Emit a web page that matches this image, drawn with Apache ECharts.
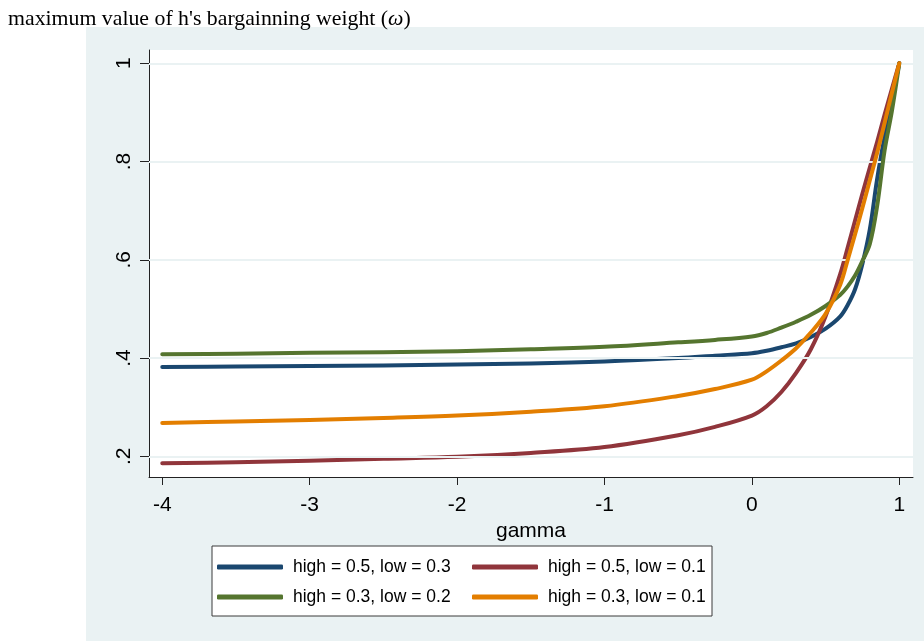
<!DOCTYPE html>
<html><head><meta charset="utf-8">
<script src="https://cdn.jsdelivr.net/npm/echarts@6/dist/echarts.min.js"></script>
<style>html,body{margin:0;padding:0;background:#fff}#c{width:924px;height:641px}</style>
</head><body><div id="c"></div>
<script>
// ---- data ----
const gamma = [-4,-3.5,-3,-2.5,-2,-1.5,-1,-0.5,-0.25,0,0.1,0.2,0.3,0.4,0.5,0.6,0.65,0.7,0.75,0.8,0.85,0.9,0.95,1];
const seriesNames = ['high = 0.5, low = 0.3','high = 0.5, low = 0.1','high = 0.3, low = 0.2','high = 0.3, low = 0.1'];
const h5l3 = [0.382,0.383,0.384,0.385,0.387,0.389,0.393,0.400,0.405,0.410,0.415,0.422,0.430,0.443,0.460,0.485,0.508,0.540,0.592,0.662,0.765,0.850,0.925,1.0];
const h5l1 = [0.186,0.188,0.191,0.195,0.199,0.207,0.219,0.243,0.260,0.283,0.302,0.331,0.370,0.418,0.485,0.572,0.625,0.680,0.735,0.788,0.840,0.895,0.948,1.0];
const h3l2 = [0.408,0.409,0.411,0.412,0.414,0.418,0.423,0.432,0.437,0.444,0.451,0.462,0.474,0.488,0.506,0.529,0.546,0.568,0.598,0.632,0.710,0.822,0.903,1.0];
const h3l1 = [0.268,0.271,0.274,0.278,0.283,0.291,0.302,0.323,0.337,0.356,0.373,0.395,0.420,0.452,0.490,0.550,0.600,0.652,0.706,0.762,0.818,0.878,0.940,1.0];
const xTicks = [-4,-3,-2,-1,0,1];
const yTicks = [0.2,0.4,0.6,0.8,1];
const xTitle = 'gamma';
const chartTitle = "maximum value of h's bargainning weight (";
const chartTitleSym = 'ω';

// ---- chart ----
const colors = ['#1A476F','#90353B','#55752F','#E37E00'];
const values = [h5l3, h5l1, h3l2, h3l1];
const SANS = 'Liberation Sans, Arial, sans-serif';
const SERIF = 'Liberation Serif, Times New Roman, serif';
const chart = echarts.init(document.getElementById('c'), null, {renderer:'canvas'});

const lineSeries = values.map((vals, k) => ({
  name: seriesNames[k], type: 'line', color: colors[k],
  data: gamma.map((g, i) => [g, vals[i]]),
  showSymbol: false, symbol: 'none', smooth: 0.35,
  lineStyle: {width: 4, color: colors[k], cap: 'round', join: 'round'},
  z: 3 + k, animation: false
}));

const legendCommon = {
  selectedMode: false, icon: 'roundRect', itemWidth: 66, itemHeight: 5,
  itemGap: 19, padding: 0, left: 217, orient: 'horizontal',
  textStyle: {fontSize: 17.5, color: '#000', fontFamily: SANS, width: 160, lineHeight: 20, padding: [0,0,0,5]},
  itemStyle: {borderWidth: 0}
};

chart.setOption({
  animation: false,
  backgroundColor: 'transparent',
  title: {
    left: 8, top: 8, padding: 0,
    text: '{a|' + chartTitle + '}{b|' + chartTitleSym + '}{a|)}',
    textStyle: {fontWeight: 'normal', rich: {
      a: {fontFamily: SERIF, fontSize: 21.8, color: '#000', fontWeight: 'normal'},
      b: {fontFamily: SERIF, fontSize: 21.8, color: '#000', fontWeight: 'normal', fontStyle: 'italic'}
    }}
  },
  graphic: [
    {type: 'rect', z: -100, shape: {x: 86, y: 27, width: 838, height: 614}, style: {fill: '#EAF2F3'}},
    {type: 'rect', z: 1, shape: {x: 212, y: 546, width: 500, height: 70}, style: {fill: '#fff', stroke: '#3a3a3a', lineWidth: 1}}
  ],
  legend: [
    Object.assign({}, legendCommon, {top: 557, data: [seriesNames[0], seriesNames[1]]}),
    Object.assign({}, legendCommon, {top: 587, data: [seriesNames[2], seriesNames[3]]})
  ],
  grid: {left: 149, right: 11, top: 50, bottom: 164, show: true, backgroundColor: '#fff', borderWidth: 0},
  xAxis: {
    type: 'value', min: -4.09, max: 1.093,
    name: xTitle, nameLocation: 'middle', nameGap: 38,
    nameTextStyle: {fontSize: 21, color: '#000', fontFamily: SANS},
    axisLine: {show: true, onZero: false, lineStyle: {color: '#222', width: 1}},
    axisTick: {show: true, length: 8, customValues: xTicks, lineStyle: {color: '#222'}},
    axisLabel: {customValues: xTicks, fontSize: 21, color: '#000', fontFamily: SANS, margin: 18,
      formatter: v => String(v)},
    splitLine: {show: false}
  },
  yAxis: {
    type: 'value', min: 0.158, max: 1.027,
    axisLine: {show: true, onZero: false, lineStyle: {color: '#222', width: 1}},
    axisTick: {show: true, length: 9, customValues: yTicks, lineStyle: {color: '#222'}},
    axisLabel: {customValues: yTicks, rotate: 90, fontSize: 21, color: '#000', fontFamily: SANS, margin: 14,
      formatter: v => (Math.abs(v - 1) < 1e-9 ? '1' : String(Math.round(v * 10) / 10).replace(/^0/, ''))},
    splitLine: {show: false}
  },
  series: [{
    type: 'line', data: [], z: 1, silent: true, showSymbol: false,
    markLine: {silent: true, symbol: 'none', animation: false, label: {show: false},
      lineStyle: {color: '#EAF2F3', width: 2, type: 'solid'},
      data: yTicks.map(v => ({yAxis: v}))}
  }].concat(lineSeries)
});
</script>
</body></html>
